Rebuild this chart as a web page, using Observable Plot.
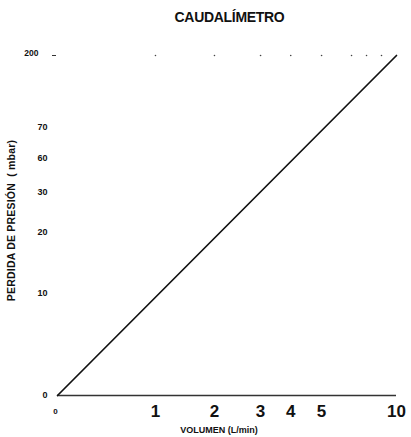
<!DOCTYPE html>
<html>
<head>
<meta charset="utf-8">
<script src="https://cdn.jsdelivr.net/npm/d3@7"></script>
<script src="https://cdn.jsdelivr.net/npm/@observablehq/plot@0.6"></script>
<style>
  html, body { margin: 0; padding: 0; background: #fff; }
  #title { width: 411px; height: 30px; box-sizing: border-box; padding-left: 48px; text-align: center;
    font: bold 14px "Liberation Sans", Arial, sans-serif; line-height: 35px; color: #111; letter-spacing: -0.3px; }
  svg { display: block; }
</style>
</head>
<body>
<div id="title">CAUDALÍMETRO</div>
<div id="chart"></div>
<script>
// Data
const xLabel = "VOLUMEN (L/min)";
const yLabel = "PERDIDA DE PRESIÓN  ( mbar)";
const flow = [0, 10];           // L/min
const pressureDrop = [0, 200];  // mbar
const xTicksBig = [1, 2, 3, 4, 5, 10];
const xTickZero = [0];
const yTicks = [0, 10, 20, 30, 60, 70];
const yTickTop = [200];
const gridDotsX = [1, 2, 3, 4, 5, 7, 8, 9];

const lineData = flow.map((f, i) => ({flow: f, drop: pressureDrop[i]}));
const dotData = gridDotsX.map(x => ({x, y: yTickTop[0]}));

const W = 411, H = 407, mt = 25, mb = 42, ml = 57, mr = 15;
// irregular (hand-drawn) scales: relative position of each tick along its axis
const xDomain = [...xTickZero, ...xTicksBig];
const xFrac = [0, 0.289, 0.463, 0.599, 0.688, 0.779, 1];
const xRange = xFrac.map(f => ml + f * (W - ml - mr));
const yDomain = [...yTicks, ...yTickTop];
const yFrac = [0, 0.300, 0.482, 0.597, 0.697, 0.788, 1];
const yRange = yFrac.map(f => (H - mb) - f * (H - mb - mt));

const font = "'Liberation Sans', Arial, sans-serif";

const chart = Plot.plot({
  width: W, height: H,
  marginTop: mt, marginBottom: mb, marginLeft: ml, marginRight: mr,
  style: {fontFamily: font, fontWeight: "bold", color: "#111", background: "#fff"},
  x: {type: "linear", domain: xDomain, range: xRange},
  y: {type: "linear", domain: yDomain, range: yRange},
  marks: [
    Plot.ruleY([0], {x1: 0, x2: 10, stroke: "#333", strokeWidth: 1.5}),
    Plot.ruleY(yTickTop, {x1: 0, x2: 0, insetLeft: -5, insetRight: 1, stroke: "#333", strokeWidth: 1}),
    Plot.dot(dotData, {x: "x", y: "y", r: 0.8, fill: "#444", stroke: null}),
    Plot.line(lineData, {x: "flow", y: "drop", stroke: "#111", strokeWidth: 1.7}),
    Plot.axisX(xTicksBig, {tickSize: 0, tickPadding: 9, fontSize: 17, label: null, tickFormat: d => String(d)}),
    Plot.axisX(xTickZero, {tickSize: 0, tickPadding: 13, fontSize: 8, label: null, tickFormat: d => String(d), dx: -2}),
    Plot.axisY(yTicks, {tickSize: 0, tickPadding: 10, fontSize: 9, label: null, tickFormat: d => String(d)}),
    Plot.axisY(yTickTop, {tickSize: 0, tickPadding: 19, fontSize: 8.5, label: null, tickFormat: d => String(d), dy: -2}),
    Plot.text([xLabel], {frameAnchor: "bottom", text: d => d, dy: 37, dx: -8, fontSize: 9, fontWeight: "bold"}),
    Plot.text([yLabel], {frameAnchor: "left", textAnchor: "middle", text: d => d, rotate: -90, dx: -46, dy: -5, fontSize: 10.5, fontWeight: "bold"})
  ]
});
document.getElementById("chart").appendChild(chart);
// keep the double space of the original vertical axis title
chart.querySelectorAll("text").forEach(t => {
  if (t.textContent === yLabel) { t.style.letterSpacing = "0.2px"; t.style.whiteSpace = "pre"; }
});
</script>
</body>
</html>
